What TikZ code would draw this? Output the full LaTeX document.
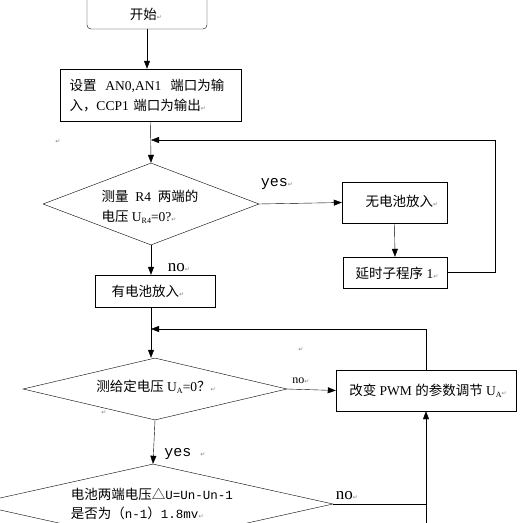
\documentclass[tikz,border=0pt]{standalone}
\usepackage{fontspec}
\setmainfont{Liberation Serif}
\newfontfamily\cjk{Noto Sans CJK SC}
\newfontfamily\dejavu{DejaVu Sans}
\newfontfamily\mono{Liberation Mono}
\usetikzlibrary{shapes.geometric,arrows.meta}
\newcommand{\zh}[1]{{\cjk #1}}
\newcommand{\ret}{{\dejavu\fontsize{6}{6}\selectfont\color{gray}↵}}
\newcommand{\sub}[1]{\raisebox{-1.5pt}{\fontsize{8}{8}\selectfont #1}}

\begin{document}
\begin{tikzpicture}[x=1pt,y=-1pt,
  box/.style={draw,rectangle,inner sep=0pt},
  cond/.style={draw,diamond,inner sep=0pt},
  txt/.style={inner sep=0pt,align=left,font=\fontsize{13.5}{20}\selectfont},
  lab/.style={inner sep=0pt,font=\fontsize{17}{17}\selectfont},
  arr/.style={-{Triangle[length=8pt,width=6pt]}}
]
\useasboundingbox (0,0) rectangle (522,523);
\clip (0,0) rectangle (522,523);

% boxes
\node[box,rounded corners=4pt,minimum width=120pt,minimum height=33pt] (start) at (147,12.5) {};
\node[txt] (startt) at (146,14) {\zh{开始}\ret};

\node[box,minimum width=181pt,minimum height=52pt] (setup) at (150.5,95) {};
\node[txt,text width=165pt] (setupt) at (152,96) {\zh{设置}\ \ AN0,AN1\ \ \zh{端口为输}\\\zh{入，}CCP1 \zh{端口为输出}\ret};

\node[cond,minimum width=216pt,minimum height=82pt] (d1) at (151,204) {};
\node[txt] (d1t) at (150,207) {\zh{测量}\ \ R4\ \ \zh{两端的}\\\zh{电压} U\sub{R4}=0?\ret};

\node[box,minimum width=105pt,minimum height=41pt] (nobat) at (394.5,202.5) {};
\node[txt] (nobatt) at (402,201) {\zh{无电池放入}\ret};

\node[box,minimum width=104pt,minimum height=31pt] (delay) at (395,272.5) {};
\node[txt] (delayt) at (397,273) {\zh{延时子程序} 1\ret};

\node[box,minimum width=120pt,minimum height=32pt] (havebat) at (155,291) {};
\node[txt] (havebatt) at (148,291) {\zh{有电池放入}\ret};

\node[cond,minimum width=264pt,minimum height=62pt] (d2) at (155,389) {};
\node[txt] (d2t) at (156,387) {\zh{测给定电压} U\sub{A}=0\zh{？}\ret};

\node[box,minimum width=180pt,minimum height=41pt] (change) at (426,390.5) {};
\node[txt] (changet) at (428,391) {\zh{改变} PWM \zh{的参数调节} U\sub{A}\ret};

\node[cond,minimum width=360pt,minimum height=80pt] (d3) at (153,504) {};
\node[txt,font=\fontsize{13.5}{19}\selectfont] (d3t) at (152,504) {\zh{电池两端电压△}{\mono\fontsize{12.5}{12.5}\selectfont U=Un-Un-1}\\\zh{是否为（}{\mono\fontsize{12.5}{12.5}\selectfont n-1}\zh{）}{\mono\fontsize{12.5}{12.5}\selectfont 1.8mv}\ret};

% stray marks
\node[inner sep=0pt] (r1) at (58,142) {\ret};
\node[inner sep=0pt] (r2) at (301,350) {\ret};
\node[inner sep=0pt] (r3) at (104,413) {\ret};

% connectors
\coordinate (j1) at (151,140);
\coordinate (j2) at (151,329);
\coordinate (bot) at (426,530);

\draw[arr] (start.south) -- (start.south |- setup.north);
\draw[arr] (setup.south) -- (d1.north);
\draw[arr] (d1.east) -- (nobat.west);
\node[lab,font=\mono\fontsize{15}{15}\selectfont] (yes1) at (277,184) {yes\ret};
\draw[arr] (nobat.south) -- (delay.north);
\draw[arr] (delay.east) -- ++(48,0) |- (j1);
\draw[arr] (d1.south) -- (d1.south |- havebat.north);
\node[lab] (no1) at (179,268) {no\ret};
\draw[arr] (d1.south |- havebat.south) -- (d1.south |- d2.north);
\draw[arr] (change.north) |- (j2);
\draw[arr] (d2.east) -- (change.west);
\node[lab,font=\fontsize{12}{12}\selectfont] (no2) at (301,381) {no\ret};
\draw[arr] (d2.south) -- (d3.north);
\node[lab,font=\mono\fontsize{15}{15}\selectfont] (yes2) at (185,454) {yes\ \ret};
\draw (d3.east) -- (d3.east -| change.south);
\node[lab] (no3) at (347,496) {no\ret};
\draw[arr] (bot) -- (change.south);

\end{tikzpicture}
\end{document}
